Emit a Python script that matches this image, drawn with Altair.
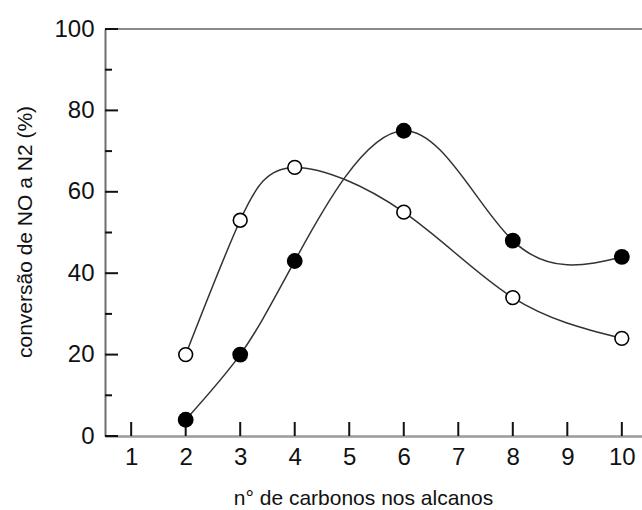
import altair as alt
import pandas as pd

# ---- data ----
carbons = [2, 3, 4, 6, 8, 10]
open_vals = [20, 53, 66, 55, 34, 24]      # open circles
filled_vals = [4, 20, 43, 75, 48, 44]     # filled circles
x_tick_vals = [1, 2, 3, 4, 5, 6, 7, 8, 9, 10]
y_major = [0, 20, 40, 60, 80, 100]
y_minor = [10, 30, 50, 70, 90]

rows = []
for c, v in zip(carbons, open_vals):
    rows.append({"carbon": c, "conv": v, "serie": "aberto"})
for c, v in zip(carbons, filled_vals):
    rows.append({"carbon": c, "conv": v, "serie": "cheio"})
df = pd.DataFrame(rows)

df_xt = pd.DataFrame({"carbon": x_tick_vals})
df_ymaj = pd.DataFrame({"conv": y_major})
df_ymin = pd.DataFrame({"conv": y_minor})

W, H = 537, 407
FONT = "Liberation Sans"

x_scale = alt.Scale(domain=[0.52, 10.37], nice=False, zero=False)
y_scale = alt.Scale(domain=[0, 100], nice=False)

x_enc = alt.X(
    "carbon:Q",
    scale=x_scale,
    axis=alt.Axis(
        values=x_tick_vals, format="d", tickSize=0, labelPadding=9,
        labelFont=FONT, labelFontSize=24, labelColor="#111",
        labelFlush=False, labelOverlap=False,
        domainColor="#9a9a9a", domainWidth=2.5, grid=False,
        title="n° de carbonos nos alcanos", titleFont=FONT,
        titleFontSize=21, titleFontWeight="normal", titleColor="#111",
        titleX=258, titleY=68, titleAlign="center", titleBaseline="alphabetic",
    ),
)
y_enc = alt.Y(
    "conv:Q",
    scale=y_scale,
    axis=alt.Axis(
        values=y_major, tickSize=0, labelPadding=11,
        labelFont=FONT, labelFontSize=24, labelColor="#111",
        labelFlush=False, labelOverlap=False,
        domainColor="#6e6e6e", domainWidth=2, grid=False,
        title="conversão de NO a N2 (%)", titleFont=FONT,
        titleFontSize=21, titleFontWeight="normal", titleColor="#111",
        titleAngle=270, titleX=-74, titleY=H / 2 - 1,
        titleAlign="center", titleBaseline="alphabetic",
    ),
)

lines = alt.Chart(df).mark_line(
    interpolate="natural", color="#333333", strokeWidth=1.5
).encode(x=x_enc, y=y_enc, detail="serie:N")

top_line = alt.Chart(df_xt).mark_rule(color="#8a8a8a", strokeWidth=2).encode(
    x=alt.value(0), x2=alt.value(W), y=alt.value(0)
)

x_ticks = alt.Chart(df_xt).mark_rule(color="#111", strokeWidth=2).encode(
    x="carbon:Q", y=alt.value(H), y2=alt.value(H - 14)
)
y_ticks_major = alt.Chart(df_ymaj).mark_rule(color="#111", strokeWidth=2).encode(
    y="conv:Q", x=alt.value(0), x2=alt.value(13)
)
y_ticks_minor = alt.Chart(df_ymin).mark_rule(color="#111", strokeWidth=2).encode(
    y="conv:Q", x=alt.value(0), x2=alt.value(7)
)

open_pts = alt.Chart(df).transform_filter(alt.datum.serie == "aberto").mark_circle(
    fill="white", stroke="black", strokeWidth=1.6, size=190, opacity=1
).encode(x="carbon:Q", y="conv:Q")

filled_pts = alt.Chart(df).transform_filter(alt.datum.serie == "cheio").mark_circle(
    color="black", size=250, opacity=1
).encode(x="carbon:Q", y="conv:Q")

chart = alt.layer(
    lines, top_line, x_ticks, y_ticks_major, y_ticks_minor, open_pts, filled_pts
).properties(
    width=W, height=H,
    autosize=alt.AutoSizeParams(type="none"),
    padding={"left": 105, "top": 29, "right": 0, "bottom": 74},
    background="white",
).configure_view(stroke=None)

chart.save("out.html", embed_options={"renderer": "svg", "actions": False})
